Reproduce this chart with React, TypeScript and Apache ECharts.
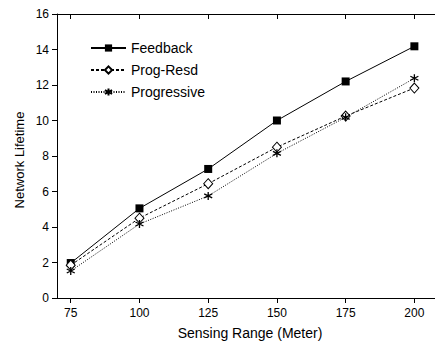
import React, { useEffect, useRef } from "react";
import * as echarts from "echarts";

const sensingRange = [75, 100, 125, 150, 175, 200];
const feedback = [1.97, 5.05, 7.27, 10.0, 12.2, 14.18];
const progResd = [1.85, 4.5, 6.44, 8.5, 10.25, 11.83];
const progressive = [1.52, 4.17, 5.75, 8.15, 10.18, 12.38];
const xTicks = [75, 100, 125, 150, 175, 200];
const seriesNames = ["Feedback", "Prog-Resd", "Progressive"];

const FONT = "'Liberation Sans', Arial, sans-serif";
const asterisk = "path://M0,-5L0,5M-4.33,-2.5L4.33,2.5M-4.33,2.5L4.33,-2.5";

export default function App() {
  const ref = useRef<HTMLDivElement>(null);
  useEffect(() => {
    if (!ref.current) return;
    const chart = echarts.init(ref.current, null, { renderer: "svg" });
    const pair = (ys: number[]) => sensingRange.map((x, i) => [x, ys[i]]);
    chart.setOption({
      animation: false,
      backgroundColor: "#fff",
      textStyle: { fontFamily: FONT, color: "#000" },
      grid: { left: 57, right: 0, top: 14, bottom: 46, containLabel: false },
      legend: {
        orient: "vertical",
        left: 90,
        top: 40,
        padding: 0,
        itemWidth: 35,
        itemHeight: 9,
        itemGap: 6,
        textStyle: { fontFamily: FONT, fontSize: 14, color: "#000", lineHeight: 16 },
        data: seriesNames,
      },
      xAxis: [
        {
          type: "value",
          min: 70,
          max: 207.5,
          position: "bottom",
          splitLine: { show: false },
          axisLine: { lineStyle: { color: "#000", width: 1 } },
          axisTick: { show: true, length: 5, inside: false, customValues: xTicks, lineStyle: { color: "#000" } },
          axisLabel: { customValues: xTicks, fontSize: 12, color: "#000", margin: 9, fontFamily: FONT },
        },
        {
          type: "value",
          min: 70,
          max: 207.5,
          position: "top",
          splitLine: { show: false },
          axisLine: { lineStyle: { color: "#000", width: 1 } },
          axisTick: { show: true, length: 5, inside: true, customValues: xTicks, lineStyle: { color: "#000" } },
          axisLabel: { show: false },
        },
      ],
      yAxis: {
        type: "value",
        min: 0,
        max: 16,
        interval: 2,
        splitLine: { show: false },
        axisLine: { show: true, lineStyle: { color: "#000", width: 1 } },
        axisTick: { show: true, length: 5, inside: false, lineStyle: { color: "#000" } },
        axisLabel: { fontSize: 12, color: "#000", margin: 8, fontFamily: FONT },
      },
      graphic: [
        {
          type: "text",
          x: 250,
          y: 333,
          style: {
            text: "Sensing Range (Meter)",
            font: `14px ${FONT}`,
            fill: "#000",
            align: "center",
            verticalAlign: "middle",
          },
        },
        {
          type: "text",
          x: 19,
          y: 160,
          rotation: Math.PI / 2,
          style: {
            text: "Network Lifetime",
            font: `13px ${FONT}`,
            fill: "#000",
            align: "center",
            verticalAlign: "middle",
          },
        },
      ],
      series: [
        {
          name: seriesNames[0],
          type: "line",
          data: pair(feedback),
          symbol: "rect",
          symbolSize: 8,
          showAllSymbol: true,
          lineStyle: { color: "#000", width: 1, type: "solid" },
          itemStyle: { color: "#000", borderColor: "#000", borderWidth: 0 },
        },
        {
          name: seriesNames[1],
          type: "line",
          data: pair(progResd),
          symbol: "diamond",
          symbolSize: [9, 10],
          lineStyle: { color: "#000", width: 1, type: [3, 2] },
          itemStyle: { color: "#fff", borderColor: "#000", borderWidth: 1 },
        },
        {
          name: seriesNames[2],
          type: "line",
          data: pair(progressive),
          symbol: asterisk,
          symbolSize: 8,
          lineStyle: { color: "#000", width: 1, type: [1, 1.5] },
          itemStyle: { color: "#000", borderColor: "#000", borderWidth: 1.3 },
        },
      ],
    });
    return () => chart.dispose();
  }, []);
  return (
    <div
      ref={ref}
      style={{ position: "fixed", left: 0, top: 0, width: 435, height: 344, background: "#fff" }}
    />
  );
}
